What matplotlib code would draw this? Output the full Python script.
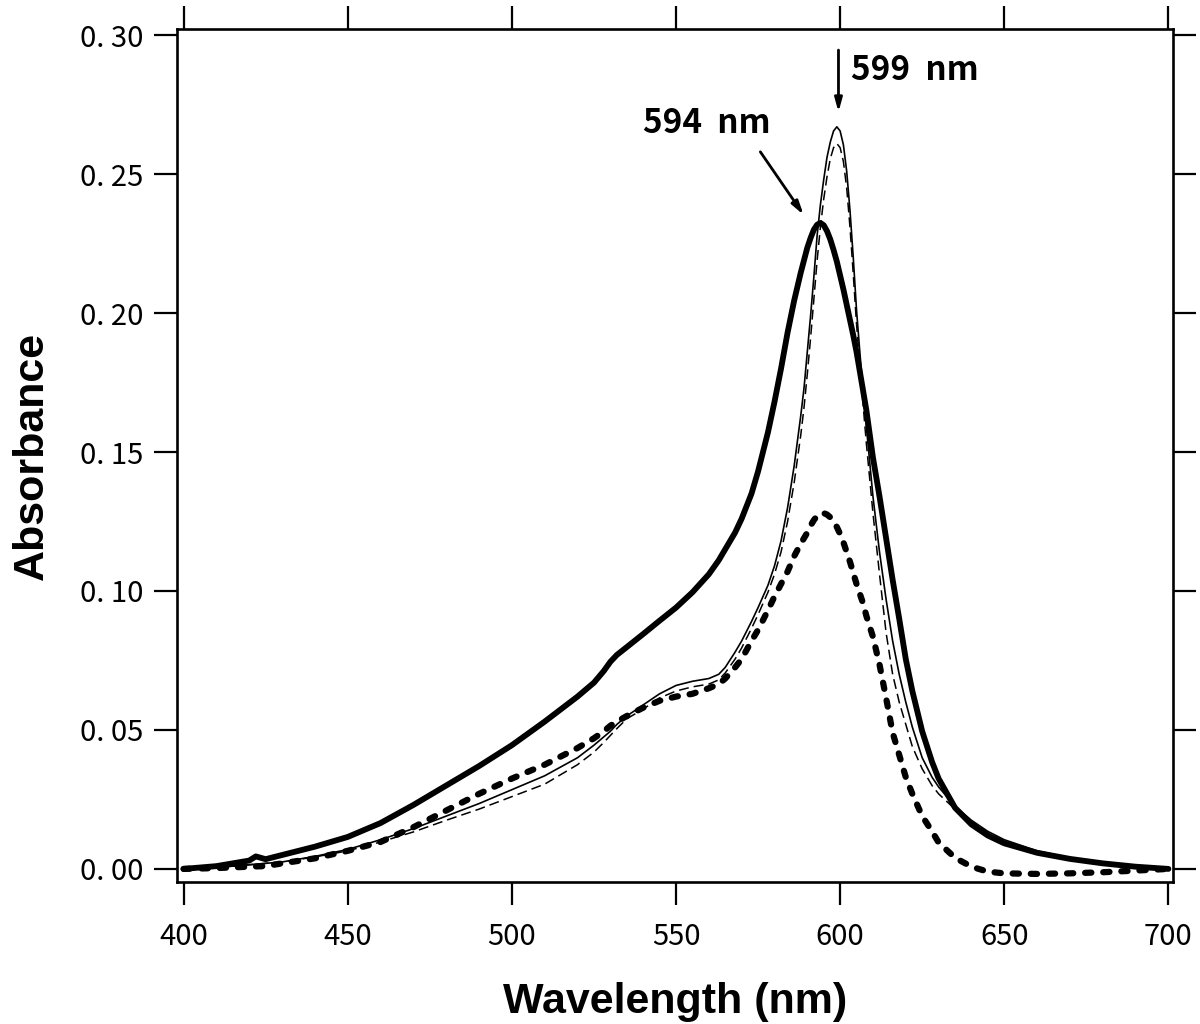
import matplotlib
matplotlib.use("Agg")
import matplotlib.pyplot as plt

# ---- data ----
wl = [400, 410, 420, 422, 425, 430, 440, 450, 460, 470,
      480, 490, 500, 510, 520, 525, 528, 530, 532, 535,
      540, 545, 550, 555, 560, 563, 565, 568, 570, 573,
      575, 578, 580, 582, 584, 586, 588, 589, 590, 591,
      592, 593, 594, 595, 596, 597, 598, 599, 600, 601,
      602, 603, 604, 605, 606, 607, 608, 610, 612, 614,
      616, 618, 620, 622, 625, 628, 630, 635, 640, 645,
      650, 660, 670, 680, 690, 700]

# thick solid (peak 594 nm)
a_thick = [0.000, 0.001, 0.003, 0.0045, 0.0035, 0.005, 0.008, 0.0115, 0.0165, 0.023,
           0.030, 0.037, 0.0445, 0.053, 0.062, 0.067, 0.0712, 0.0745, 0.0770, 0.0798,
           0.0845, 0.0893, 0.0940, 0.0995, 0.106, 0.111, 0.115, 0.121, 0.126, 0.135,
           0.143, 0.157, 0.168, 0.180, 0.193, 0.2045, 0.2145, 0.219, 0.2235, 0.2270,
           0.2300, 0.2318, 0.2324, 0.2316, 0.2295, 0.2265, 0.2227, 0.2185, 0.2135, 0.2085,
           0.2030, 0.1975, 0.1920, 0.1860, 0.1790, 0.1720, 0.1650, 0.1480, 0.1340, 0.1190,
           0.1040, 0.0900, 0.0755, 0.0640, 0.0495, 0.0385, 0.0325, 0.0220, 0.0160, 0.0120,
           0.0092, 0.0058, 0.0036, 0.0020, 0.0008, 0.0000]

# thin solid (peak 599 nm)
a_thin = [0.000, 0.0005, 0.0015, 0.0017, 0.002, 0.0025, 0.0045, 0.007, 0.0105, 0.0145,
          0.019, 0.0235, 0.0285, 0.0335, 0.040, 0.0445, 0.0475, 0.0495, 0.052, 0.055,
          0.059, 0.063, 0.066, 0.0675, 0.0685, 0.070, 0.0725, 0.078, 0.082, 0.089,
          0.094, 0.102, 0.109, 0.118, 0.130, 0.145, 0.163, 0.173, 0.186, 0.199,
          0.213, 0.228, 0.239, 0.248, 0.256, 0.2615, 0.2655, 0.267, 0.2655, 0.2605,
          0.251, 0.237, 0.220, 0.201, 0.186, 0.172, 0.159, 0.134, 0.114, 0.097,
          0.082, 0.070, 0.060, 0.051, 0.040, 0.033, 0.0295, 0.0225, 0.0175, 0.0135,
          0.0105, 0.0065, 0.0040, 0.0022, 0.0010, 0.0002]

# thin dashed
a_dash = [0.000, 0.0005, 0.0015, 0.0017, 0.002, 0.0025, 0.0043, 0.0065, 0.0097, 0.0133,
          0.0175, 0.0215, 0.026, 0.0305, 0.0375, 0.042, 0.0455, 0.048, 0.0505, 0.054,
          0.0575, 0.0615, 0.064, 0.0655, 0.0665, 0.068, 0.0705, 0.0755, 0.0795, 0.0865,
          0.0915, 0.0995, 0.106, 0.114, 0.125, 0.139, 0.156, 0.166, 0.178, 0.191,
          0.205, 0.219, 0.231, 0.241, 0.249, 0.2555, 0.2595, 0.261, 0.2595, 0.2545,
          0.245, 0.231, 0.214, 0.196, 0.181, 0.167, 0.153, 0.128, 0.106, 0.085,
          0.070, 0.060, 0.052, 0.044, 0.036, 0.030, 0.027, 0.0215, 0.017, 0.013,
          0.010, 0.0063, 0.0038, 0.0021, 0.0009, 0.0002]

# thick dotted
a_dot = [0.000, 0.0003, 0.0008, 0.0009, 0.001, 0.002, 0.0038, 0.0065, 0.0097, 0.015,
         0.021, 0.027, 0.0325, 0.0375, 0.0435, 0.047, 0.0495, 0.0515, 0.053, 0.055,
         0.058, 0.0605, 0.062, 0.063, 0.065, 0.0665, 0.0685, 0.0725, 0.0755, 0.082,
         0.086, 0.093, 0.098, 0.1025, 0.107, 0.1125, 0.117, 0.119, 0.121, 0.1235,
         0.1255, 0.127, 0.128, 0.128, 0.1275, 0.1265, 0.1250, 0.123, 0.1205, 0.1175,
         0.114, 0.1105, 0.1065, 0.1025, 0.099, 0.0955, 0.091, 0.0835, 0.0735, 0.0615,
         0.049, 0.041, 0.033, 0.027, 0.019, 0.0135, 0.0095, 0.004, 0.0008, -0.001,
         -0.0016, -0.0018, -0.0016, -0.0012, -0.0006, 0.000]

x_ticks = [400, 450, 500, 550, 600, 650, 700]
y_ticks = [0.00, 0.05, 0.10, 0.15, 0.20, 0.25, 0.30]
y_tick_labels = ["0. 00", "0. 05", "0. 10", "0. 15", "0. 20", "0. 25", "0. 30"]

# ---- figure ----
fig = plt.figure(figsize=(12, 10.24), dpi=100)
ax = fig.add_axes([0.1475, 0.1387, 0.83, 0.833])

ax.plot(wl, a_dot, color="black", lw=4.5, linestyle=(0, (1.0, 1.9)),
        dash_capstyle="round", dash_joinstyle="round", zorder=2)
ax.plot(wl, a_dash, color="black", lw=1.1, linestyle=(0, (6.5, 3.3)),
        dash_joinstyle="round", zorder=3)
ax.plot(wl, a_thin, color="black", lw=1.2, solid_joinstyle="round", zorder=4)
ax.plot(wl, a_thick, color="black", lw=4.2, solid_capstyle="round",
        solid_joinstyle="round", zorder=5)

ax.set_xlim(398.0, 701.4)
ax.set_ylim(-0.0047, 0.3022)

tick_font = dict(family=["Noto Sans CJK JP", "DejaVu Sans"], size=21)
ax.set_xticks(x_ticks)
ax.set_xticklabels([str(v) for v in x_ticks], fontdict=tick_font)
ax.set_yticks(y_ticks)
ax.set_yticklabels(y_tick_labels, fontdict=tick_font)
ax.tick_params(axis="both", which="major", direction="out", length=16.5, width=1.6,
               top=True, right=True, labeltop=False, labelright=False)
ax.tick_params(axis="x", pad=12)
ax.tick_params(axis="y", pad=8)
for sp in ax.spines.values():
    sp.set_linewidth(1.9)

label_font = dict(family="Liberation Sans", weight="bold", size=31)
ax.set_xlabel("Wavelength (nm)", fontdict=label_font, labelpad=22)
ax.set_ylabel("Absorbance", fontdict=label_font, labelpad=20)

ann_font = dict(family=["Noto Sans CJK JP", "DejaVu Sans"], weight="bold", size=24)
ax.annotate("", xy=(599.5, 0.2723), xytext=(599.5, 0.2946),
            arrowprops=dict(arrowstyle="-|>,head_length=0.8,head_width=0.22",
                            color="black", lw=2.0, shrinkA=0, shrinkB=0))
ax.text(603.2, 0.2874, "599  nm", ha="left", va="center", fontdict=ann_font)
ax.annotate("", xy=(588.9, 0.2353), xytext=(575.7, 0.2580),
            arrowprops=dict(arrowstyle="-|>,head_length=0.8,head_width=0.22",
                            color="black", lw=2.0, shrinkA=0, shrinkB=0))
ax.text(540.0, 0.2683, "594  nm", ha="left", va="center", fontdict=ann_font)

fig.savefig("out.png", dpi=100, facecolor="white")
